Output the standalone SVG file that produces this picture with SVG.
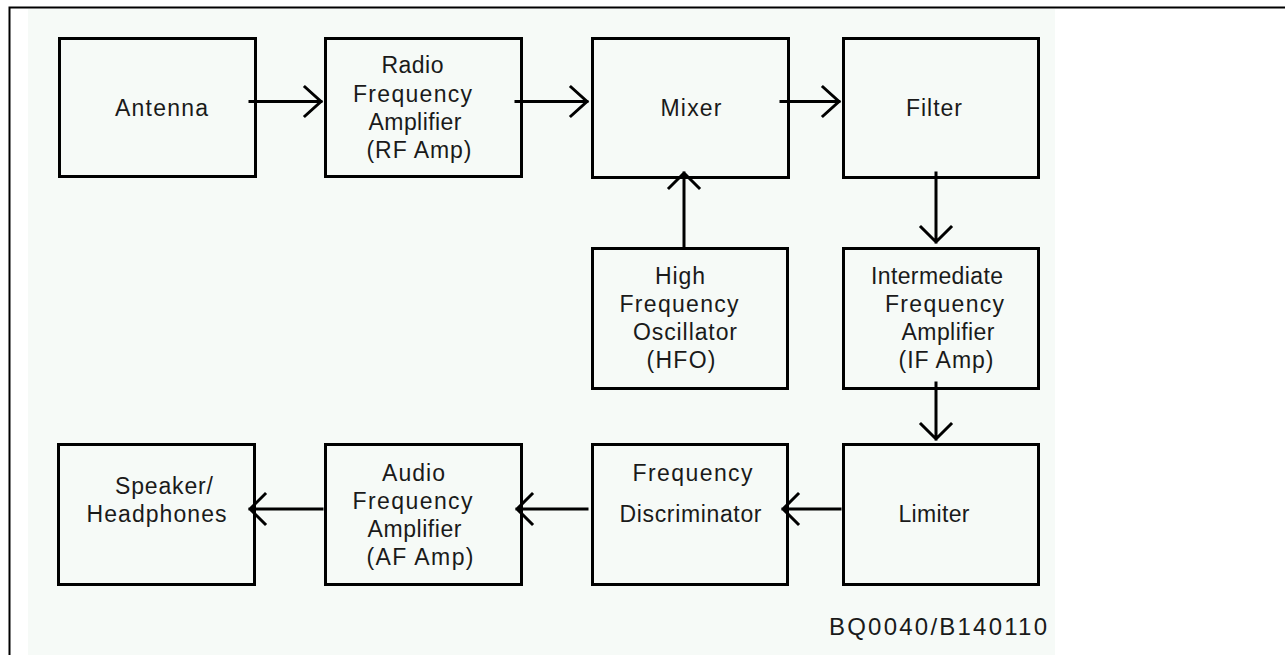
<svg xmlns="http://www.w3.org/2000/svg" width="1285" height="655" viewBox="0 0 1285 655">
<style>
.bg{fill:#f6faf7}
.box{fill:none;stroke:#000;stroke-width:3}
.lbl{font-family:"Liberation Sans",Arial,sans-serif;font-size:23px;fill:#1a1a1a;text-anchor:middle}
.code{font-size:24px}
.c{fill:none;stroke:#000;stroke-width:3;stroke-linecap:square}
.frame{stroke:#000;stroke-width:2;fill:none}
</style>
<rect width="1285" height="655" fill="#fff"/>
<rect class="bg" x="28" y="9" width="1027" height="646"/>
<path class="frame" d="M9.5 655 V7.5 H1285"/>
<g id="antenna">
<rect class="box" x="59.5" y="38.5" width="196" height="138"/>
<text class="lbl" x="161.5" y="116" textLength="93" lengthAdjust="spacing">Antenna</text>
</g>
<g id="rfamp">
<rect class="box" x="325.5" y="38.5" width="196" height="138"/>
<text class="lbl" x="412.5" y="73" textLength="62" lengthAdjust="spacing">Radio</text>
<text class="lbl" x="412.5" y="102" textLength="119" lengthAdjust="spacing">Frequency</text>
<text class="lbl" x="415" y="130" textLength="93" lengthAdjust="spacing">Amplifier</text>
<text class="lbl" x="419" y="158" textLength="105" lengthAdjust="spacing">(RF Amp)</text>
</g>
<g id="mixer">
<rect class="box" x="592.5" y="38.5" width="196" height="139"/>
<text class="lbl" x="691" y="116" textLength="61" lengthAdjust="spacing">Mixer</text>
</g>
<g id="filter">
<rect class="box" x="843.5" y="38.5" width="195" height="139"/>
<text class="lbl" x="934" y="116" textLength="56" lengthAdjust="spacing">Filter</text>
</g>
<g id="hfo">
<rect class="box" x="592.5" y="248.5" width="195" height="140"/>
<text class="lbl" x="680" y="284" textLength="50" lengthAdjust="spacing">High</text>
<text class="lbl" x="679" y="312" textLength="119" lengthAdjust="spacing">Frequency</text>
<text class="lbl" x="685" y="340" textLength="104" lengthAdjust="spacing">Oscillator</text>
<text class="lbl" x="681" y="368" textLength="69" lengthAdjust="spacing">(HFO)</text>
</g>
<g id="ifamp">
<rect class="box" x="843.5" y="248.5" width="195" height="140"/>
<text class="lbl" x="937" y="284" textLength="132" lengthAdjust="spacing">Intermediate</text>
<text class="lbl" x="944.5" y="312" textLength="119" lengthAdjust="spacing">Frequency</text>
<text class="lbl" x="948" y="340" textLength="93" lengthAdjust="spacing">Amplifier</text>
<text class="lbl" x="946" y="368" textLength="95" lengthAdjust="spacing">(IF Amp)</text>
</g>
<g id="limiter">
<rect class="box" x="843.5" y="444.5" width="195" height="140"/>
<text class="lbl" x="934" y="522" textLength="71" lengthAdjust="spacing">Limiter</text>
</g>
<g id="discriminator">
<rect class="box" x="592.5" y="444.5" width="195" height="140"/>
<text class="lbl" x="692.5" y="481" textLength="120" lengthAdjust="spacing">Frequency</text>
<text class="lbl" x="690.5" y="522" textLength="142" lengthAdjust="spacing">Discriminator</text>
</g>
<g id="afamp">
<rect class="box" x="325.5" y="444.5" width="196" height="140"/>
<text class="lbl" x="413.5" y="481" textLength="63" lengthAdjust="spacing">Audio</text>
<text class="lbl" x="412.5" y="509" textLength="120" lengthAdjust="spacing">Frequency</text>
<text class="lbl" x="414.5" y="537" textLength="94" lengthAdjust="spacing">Amplifier</text>
<text class="lbl" x="420" y="565" textLength="107" lengthAdjust="spacing">(AF Amp)</text>
</g>
<g id="speaker">
<rect class="box" x="58.5" y="444.5" width="196" height="140"/>
<text class="lbl" x="164" y="494" textLength="98" lengthAdjust="spacing">Speaker/</text>
<text class="lbl" x="156.5" y="522" textLength="140" lengthAdjust="spacing">Headphones</text>
</g>
<g id="connectors">
<path class="c" d="M250 101.5 H321 M305 87 L321 101.5 L305 116"/>
<path class="c" d="M516 101.5 H587 M571 87 L587 101.5 L571 116"/>
<path class="c" d="M781 101.5 H839 M823 87 L839 101.5 L823 116"/>
<path class="c" d="M684 246 V173 M669 188 L684 173 L699 188"/>
<path class="c" d="M936 173 V242 M921 227 L936 242 L951 227"/>
<path class="c" d="M936 383 V439 M921 424 L936 439 L951 424"/>
<path class="c" d="M840 509 H783 M798 494 L783 509 L798 524"/>
<path class="c" d="M587 509 H517 M532 494 L517 509 L532 524"/>
<path class="c" d="M322 509 H250 M265 494 L250 509 L265 524"/>
</g>
<text class="lbl code" x="938" y="635" textLength="218" lengthAdjust="spacing">BQ0040/B140110</text>
</svg>
